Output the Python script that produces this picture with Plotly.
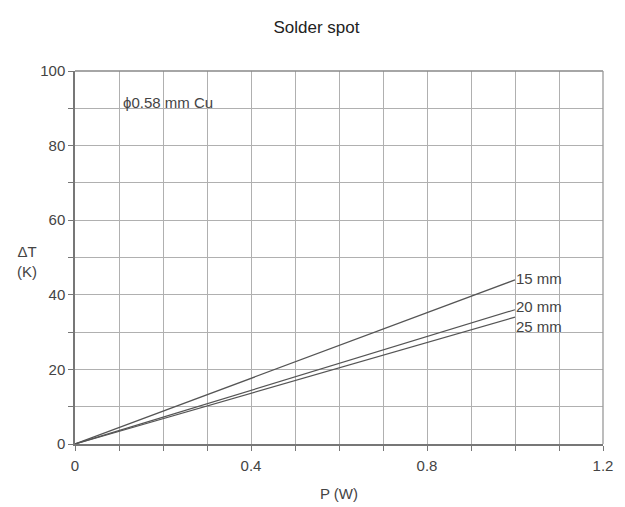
import plotly.graph_objects as go

power_w = [0.0, 1.0]
dt_15mm = [0.0, 44.0]
dt_20mm = [0.0, 36.0]
dt_25mm = [0.0, 34.0]
series_labels = ["15 mm", "20 mm", "25 mm"]
x_ticks = [0, 0.4, 0.8, 1.2]
x_tick_text = ["0", "0.4", "0.8", "1.2"]
y_ticks = [0, 20, 40, 60, 80, 100]

font_fam = "Liberation Sans Narrow, Liberation Sans, Arial, sans-serif"
txt_col = "#444444"
line_col = "#555555"

fig = go.Figure()
label_offsets = [0.5, 0.8, -2.6]
for name, ys, dy in zip(series_labels, [dt_15mm, dt_20mm, dt_25mm], label_offsets):
    fig.add_trace(go.Scatter(x=power_w, y=ys, mode="lines", name=name,
                             line=dict(color=line_col, width=1.2), showlegend=False))
    fig.add_annotation(x=power_w[-1], y=ys[-1] + dy, text=name, showarrow=False,
                       xanchor="left", yanchor="middle", xshift=-1,
                       font=dict(family=font_fam, size=15, color=txt_col))

fig.add_annotation(x=0.104, y=91.5, text="ϕ0.58 mm Cu", showarrow=False,
                   xanchor="left", yanchor="middle",
                   font=dict(family=font_fam, size=15, color=txt_col))
fig.add_annotation(xref="paper", yref="paper", x=-0.091, y=0.49, text="ΔT<br>(K)",
                   showarrow=False, xanchor="center", yanchor="middle", align="center",
                   font=dict(family=font_fam, size=15, color=txt_col))

grid = dict(showgrid=True, gridcolor="#b0b0b0", gridwidth=1.4)
xv = [i / 10 for i in range(13)]
fig.update_xaxes(range=[0, 1.2], tickmode="array", tickvals=xv,
                 ticktext=[x_tick_text[x_ticks.index(round(v, 1))] if round(v, 1) in x_ticks else "" for v in xv],
                 showline=True, linecolor="#777777", linewidth=1.5,
                 ticks="outside", ticklen=5, tickcolor="#777777", zeroline=False,
                 automargin=False, ticklabelstandoff=2,
                 title=dict(text="P (W)", font=dict(family=font_fam, size=15, color=txt_col), standoff=16),
                 tickfont=dict(family=font_fam, size=15, color=txt_col), **grid)
yv = list(range(0, 101, 10))
fig.update_yaxes(range=[0, 100], tickmode="array", tickvals=yv,
                 ticktext=[str(v) if v in y_ticks else "" for v in yv],
                 showline=True, linecolor="#777777", linewidth=1.5,
                 ticks="outside", ticklen=5, tickcolor="#777777", zeroline=False,
                 automargin=False,
                 tickfont=dict(family=font_fam, size=15, color=txt_col), **grid)

fig.add_shape(type="line", xref="paper", yref="paper", x0=0, x1=1, y0=1, y1=1,
              line=dict(color="#888888", width=1.3))
fig.add_shape(type="line", xref="paper", yref="paper", x0=1, x1=1, y0=0, y1=1,
              line=dict(color="#999999", width=1.3))

fig.update_layout(
    width=617, height=499,
    margin=dict(l=67, r=22, t=63, b=63),
    paper_bgcolor="white", plot_bgcolor="white",
    title=dict(text="Solder spot", x=0.5, xanchor="center", y=0.962, yanchor="middle",
               yref="container",
               font=dict(family="Liberation Sans, Arial, sans-serif", size=17, color="#222222")),
)

fig.write_html("out.html")
